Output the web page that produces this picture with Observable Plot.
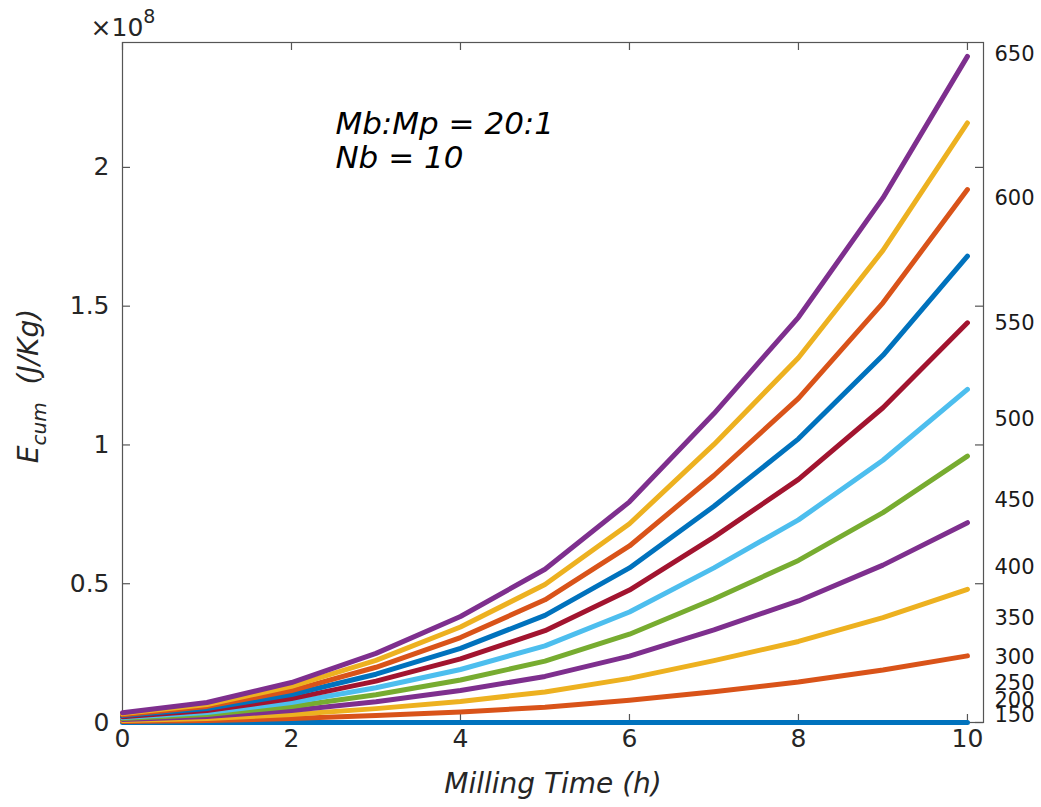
<!DOCTYPE html>
<html>
<head>
<meta charset="utf-8">
<script src="https://cdn.jsdelivr.net/npm/d3@7"></script>
<script src="https://cdn.jsdelivr.net/npm/@observablehq/plot@0.6"></script>
<style>
  html, body { margin: 0; padding: 0; background: #ffffff; }
  #chart { width: 1041px; height: 807px; }
</style>
</head>
<body>
<div id="chart"></div>
<script>
// Milling time (h)
const times = [0, 1, 2, 3, 4, 5, 6, 7, 8, 9, 10];

// Cumulative energy, in units of 1e8 J/Kg (bottom curve first)
const s0  = [0, 0, 0, 0, 0, 0, 0, 0, 0, 0, 0];
const s1  = [0.004, 0.007, 0.014, 0.025, 0.038, 0.055, 0.080, 0.111, 0.146, 0.189, 0.240];
const s2  = [0.007, 0.014, 0.029, 0.050, 0.076, 0.110, 0.159, 0.223, 0.292, 0.378, 0.480];
const s3  = [0.011, 0.022, 0.043, 0.075, 0.115, 0.166, 0.239, 0.334, 0.438, 0.567, 0.720];
const s4  = [0.014, 0.029, 0.058, 0.100, 0.153, 0.221, 0.318, 0.445, 0.584, 0.756, 0.960];
const s5  = [0.018, 0.036, 0.072, 0.125, 0.191, 0.276, 0.398, 0.557, 0.730, 0.945, 1.200];
const s6  = [0.021, 0.043, 0.086, 0.149, 0.229, 0.331, 0.477, 0.668, 0.876, 1.134, 1.440];
const s7  = [0.025, 0.050, 0.101, 0.174, 0.267, 0.386, 0.557, 0.779, 1.022, 1.323, 1.680];
const s8  = [0.028, 0.058, 0.115, 0.199, 0.306, 0.442, 0.636, 0.890, 1.168, 1.512, 1.920];
const s9  = [0.032, 0.065, 0.130, 0.224, 0.344, 0.497, 0.716, 1.002, 1.314, 1.701, 2.160];
const s10 = [0.035, 0.072, 0.144, 0.249, 0.382, 0.552, 0.795, 1.113, 1.460, 1.890, 2.400];
const seriesList = [s0, s1, s2, s3, s4, s5, s6, s7, s8, s9, s10];

// MATLAB default colour order
const seriesColors = ["#0072BD", "#D95319", "#EDB120", "#7E2F8E", "#77AC30", "#4DBEEE",
                      "#A2142F", "#0072BD", "#D95319", "#EDB120", "#7E2F8E"];

// Tick values
const xTicks = [0, 2, 4, 6, 8, 10];
const xTickLabels = ["0", "2", "4", "6", "8", "10"];
const yTicks = [0, 0.5, 1, 1.5, 2];
const yTickLabels = ["0", "0.5", "1", "1.5", "2"];

// Right-hand labels and their value positions (1e8 J/Kg)
const rightLabels = ["650", "600", "550", "500", "450", "400", "350", "300", "250", "200", "150"];
const rightLabelPos = [2.406, 1.888, 1.440, 1.094, 0.799, 0.558, 0.374, 0.234, 0.140, 0.079, 0.025];

const annotationText = ["Mb:Mp = 20:1", "Nb = 10"];

// Build tables
const lineData = [];
seriesList.forEach((arr, i) => arr.forEach((v, j) => lineData.push({series: i, t: times[j], v})));
const rightData = rightLabels.map((l, i) => ({label: l, pos: rightLabelPos[i]}));
const xTickData = xTicks.map((v, i) => ({v, label: xTickLabels[i]}));
const yTickData = yTicks.map((v, i) => ({v, label: yTickLabels[i]}));

const W = 1041, H = 807;
const mL = 122, mR = 58, mT = 42, mB = 85;
const innerW = W - mL - mR, innerH = H - mT - mB;
const tickLen = 8;
const axisColor = "#262626";
const font = "'DejaVu Sans', sans-serif";

const lineMarks = seriesList.map((arr, i) =>
  Plot.line(lineData.filter(d => d.series === i), {
    x: "t", y: "v", stroke: seriesColors[i], strokeWidth: 5, strokeLinejoin: "round"
  })
);

const chart = Plot.plot({
  width: W, height: H,
  marginLeft: mL, marginRight: mR, marginTop: mT, marginBottom: mB,
  style: {fontFamily: font, fontSize: "24px", color: axisColor, background: "#ffffff", overflow: "visible"},
  x: {domain: [0, 10.19], axis: null},
  y: {domain: [0, 2.45], axis: null},
  marks: [
    Plot.frame({stroke: "#555555", strokeWidth: 1.2}),
    // inward ticks on all four sides
    Plot.tickX(xTicks, {x: d => d, insetTop: innerH - tickLen, stroke: "#555555", strokeWidth: 1.2}),
    Plot.tickX(xTicks, {x: d => d, insetBottom: innerH - tickLen, stroke: "#555555", strokeWidth: 1.2}),
    Plot.tickY(yTicks, {y: d => d, insetRight: innerW - tickLen, stroke: "#555555", strokeWidth: 1.2}),
    Plot.tickY(yTicks, {y: d => d, insetLeft: innerW - tickLen, stroke: "#555555", strokeWidth: 1.2}),
    ...lineMarks,
    // tick labels
    Plot.text(xTickData, {x: "v", frameAnchor: "bottom", text: "label", dy: 24, fontSize: 25, fill: axisColor}),
    Plot.text(yTickData, {y: "v", frameAnchor: "left", text: "label", dx: -13, textAnchor: "end", fontSize: 25, fill: axisColor}),
    // right-hand labels
    Plot.text(rightData, {x: () => 10, y: "pos", text: "label", dx: 27, textAnchor: "start", fontSize: 21, fill: "#1a1a1a"}),
    // annotation
    Plot.text([annotationText.join("\n")], {x: () => 2.52, y: () => 2.097, text: d => d, textAnchor: "start",
      fontSize: 31, fontStyle: "italic", fill: "#000000", lineHeight: 1.08}),
    // x-axis title
    Plot.text(["Milling Time (h)"], {frameAnchor: "bottom", text: d => d, dy: 70, fontSize: 28, fontStyle: "italic", fill: axisColor})
  ]
});

document.getElementById("chart").appendChild(chart);

// Y-axis label with subscript, and the exponent marker
const svg = d3.select(chart);
const ylab = svg.append("text")
  .attr("transform", "translate(38," + (mT + innerH / 2 + 4) + ") rotate(-90)")
  .attr("text-anchor", "middle")
  .attr("font-family", font)
  .attr("font-style", "italic")
  .attr("font-size", 28)
  .attr("fill", axisColor);
ylab.append("tspan").text("E");
ylab.append("tspan").attr("font-size", 20).attr("dy", 8).text("cum");
ylab.append("tspan").attr("dy", -8).text("\u00a0 (J/Kg)");

const expo = svg.append("text")
  .attr("x", mL + 1).attr("y", 36)
  .attr("font-family", font)
  .attr("font-size", 25)
  .attr("fill", axisColor);
expo.append("tspan").text("\u00d710");
expo.append("tspan").attr("font-size", 19).attr("dy", -13).text("8");
</script>
</body>
</html>
